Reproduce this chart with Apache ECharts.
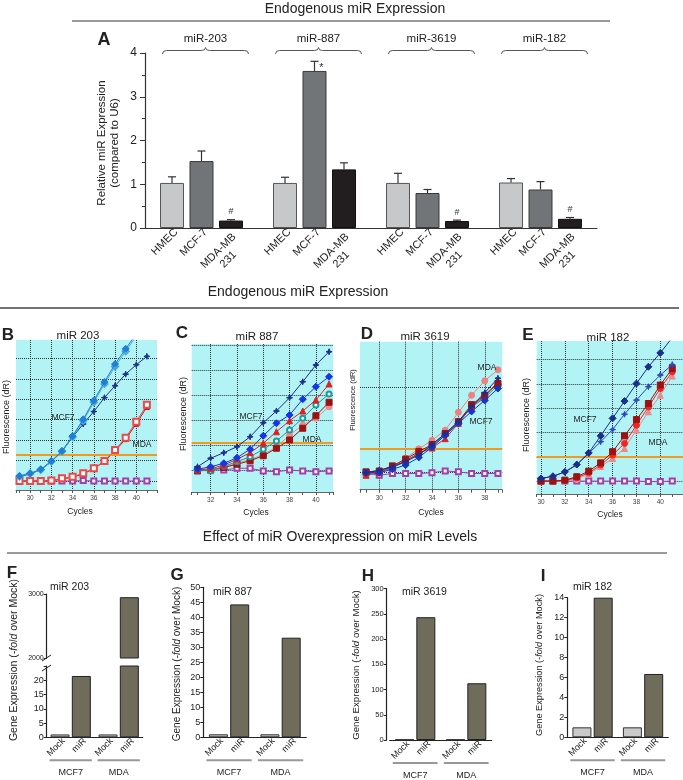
<!DOCTYPE html>
<html>
<head>
<meta charset="utf-8">
<script src="https://cdn.jsdelivr.net/npm/echarts@6/dist/echarts.min.js"></script>
<style>
html,body{margin:0;padding:0;background:#ffffff;}
#chart{width:683px;height:780px;}
</style>
</head>
<body>
<div id="chart"></div>
<script>
// ================= DATA =================
// Panel A : endogenous expression (relative to U6)
const groupsA = ['miR-203', 'miR-887', 'miR-3619', 'miR-182'];
const cellLinesA = ['HMEC', 'MCF-7', 'MDA-MB 231'];
const hmecA = [1.03, 1.03, 1.03, 1.04];
const mcf7A = [1.53, 3.59, 0.80, 0.88];
const mdaA  = [0.17, 1.34, 0.16, 0.21];
const hmecErrA = [0.14, 0.13, 0.22, 0.09];
const mcf7ErrA = [0.23, 0.22, 0.08, 0.18];
const mdaErrA  = [0.02, 0.15, 0.02, 0.03];
const markA = [['', '', '#'], ['', '*', ''], ['', '', '#'], ['', '', '#']];

// Panel B : miR 203 amplification (dR, grid units)
const cyclesB = [29, 30, 31, 32, 33, 34, 35, 36, 37, 38, 39, 40, 41];
const blueB  = [0.25, 0.38, 0.57, 0.98, 1.47, 2.20, 3.02, 3.94, 4.85, 5.72, 6.47, 7.20, 7.90];
const cyanB  = [0.22, 0.36, 0.55, 0.95, 1.45, 2.15, 2.95, 3.85, 4.75, 5.60, 6.35, 7.10, 7.80];
const navyB  = [0.20, 0.35, 0.55, 0.95, 1.45, 2.15, 2.79, 3.40, 4.08, 4.66, 5.23, 5.69, 6.10];
const redB   = [0.00, 0.00, 0.00, 0.02, 0.13, 0.21, 0.38, 0.62, 0.98, 1.52, 2.12, 2.90, 3.73];
const darkRedB = [0.00, 0.00, 0.00, 0.02, 0.10, 0.18, 0.35, 0.60, 0.95, 1.48, 2.05, 2.80, 3.62];
const ntcB   = [0.00, 0.00, 0.00, 0.00, 0.00, 0.00, 0.02, 0.00, 0.00, 0.00, 0.00, 0.00, 0.00];
const thresholdB = 1.27;

// Panel C : miR 887
const cyclesC = [31, 32, 33, 34, 35, 36, 37, 38, 39, 40, 41];
const navyC    = [0.13, 0.47, 0.69, 0.93, 1.33, 1.89, 2.36, 2.89, 3.53, 4.20, 4.73];
const blueC    = [0.03, 0.13, 0.27, 0.49, 0.83, 1.37, 1.87, 2.20, 2.83, 3.33, 3.73];
const redC     = [0.00, 0.05, 0.20, 0.43, 0.69, 1.07, 1.53, 1.97, 2.36, 2.80, 3.44];
const tealC    = [0.00, -0.04, 0.15, 0.33, 0.53, 0.83, 1.16, 1.60, 2.07, 2.60, 3.04];
const darkRedC = [-0.04, 0.00, 0.10, 0.23, 0.37, 0.57, 0.87, 1.20, 1.67, 2.17, 2.71];
const salmonC  = [-0.02, 0.02, 0.12, 0.27, 0.42, 0.62, 0.92, 1.40, 1.80, 2.07, 2.53];
const ntcC     = [0.00, 0.00, 0.00, 0.07, 0.07, -0.04, -0.07, 0.00, -0.04, -0.07, -0.04];
const thresholdC = 1.09;

// Panel D : miR 3619
const cyclesD = [29, 30, 31, 32, 33, 34, 35, 36, 37, 38, 39];
const salmonD  = [0.00, 0.01, 0.07, 0.17, 0.28, 0.38, 0.50, 0.71, 0.91, 1.08, 1.21];
const navyD    = [0.00, 0.03, 0.07, 0.13, 0.21, 0.33, 0.46, 0.60, 0.78, 0.94, 1.11];
const blueD    = [0.00, 0.00, 0.04, 0.09, 0.18, 0.30, 0.44, 0.58, 0.72, 0.85, 0.99];
const redD     = [-0.03, 0.00, 0.07, 0.14, 0.23, 0.29, 0.40, 0.58, 0.78, 0.90, 1.07];
const darkRedD = [0.01, 0.02, 0.08, 0.16, 0.25, 0.33, 0.46, 0.60, 0.80, 0.91, 1.05];
const tealD    = [0.00, 0.01, 0.06, 0.13, 0.22, 0.31, 0.45, 0.59, 0.77, 0.88, 1.03];
const ntcD     = [0.00, -0.03, -0.01, -0.01, -0.01, 0.00, 0.02, 0.01, -0.01, -0.01, -0.01];
const thresholdD = 0.28;

// Panel E : miR 182
const cyclesE = [30, 31, 32, 33, 34, 35, 36, 37, 38, 39, 40, 41];
const navyE    = [0.11, 0.20, 0.38, 0.68, 1.16, 1.86, 2.58, 3.29, 4.01, 4.70, 5.27, 5.90];
const blueE    = [0.10, 0.20, 0.37, 0.67, 1.14, 1.62, 2.12, 2.75, 3.33, 3.88, 4.36, 4.79];
const darkRedE = [0.00, 0.00, 0.04, 0.18, 0.41, 0.75, 1.21, 1.86, 2.53, 3.19, 3.95, 4.63];
const redE     = [0.00, 0.00, 0.03, 0.14, 0.34, 0.66, 1.07, 1.55, 2.30, 3.05, 3.81, 4.49];
const pinkE    = [0.00, 0.00, 0.02, 0.10, 0.28, 0.60, 0.93, 1.34, 2.10, 2.85, 3.53, 4.32];
const ntcE     = [0.00, 0.00, 0.00, 0.00, 0.00, 0.00, 0.00, 0.00, 0.00, -0.02, -0.02, 0.00];
const thresholdE = 1.0;

// Panels F-I : overexpression (-fold over Mock)
const groupsFI = ['MCF7', 'MDA'];
const treatFI = ['Mock', 'miR'];
const mockF = [1, 1];   const mirF = [21.5, 2950];
const mockG = [1, 1];   const mirG = [44.3, 33.2];
const mockH = [1, 1];   const mirH = [243.5, 112.5];
const mockI = [1, 1];   const mirI = [14.0, 6.35];

// ================= BUILD =================
const FONT = '"Liberation Sans", Arial, Helvetica, sans-serif';
const grid = [], xAxis = [], yAxis = [], series = [], graphic = [];

function text(x, y, str, size, opt) {
  opt = opt || {};
  const style = { text: str, fontSize: size, fontFamily: FONT, fontWeight: opt.bold ? 'bold' : 'normal',
    fill: opt.color || '#222', align: opt.align || 'center', verticalAlign: 'middle' };
  if (opt.lineHeight) style.lineHeight = opt.lineHeight;
  if (opt.rich) style.rich = opt.rich;
  return { type: 'text', x: x, y: y, rotation: opt.rotation || 0, silent: true, z: 100, style: style };
}
function seg(x1, y1, x2, y2, color, w) {
  return { type: 'line', silent: true, z: 100, shape: { x1: x1, y1: y1, x2: x2, y2: y2 }, style: { stroke: color, lineWidth: w } };
}
const plain = function (v) { return String(v); };

// ---- headers ----
graphic.push(text(355, 9, 'Endogenous miR Expression', 14));
graphic.push(seg(72, 21, 610, 21, '#9a9a9a', 2));
graphic.push(text(298, 292, 'Endogenous miR Expression', 14));
graphic.push(seg(0, 308, 679, 308, '#444', 1.5));
graphic.push(text(340, 537, 'Effect of miR Overexpression on miR Levels', 14));
graphic.push(seg(7, 553, 667, 553, '#9a9a9a', 2));

// ---- Panel A ----
const barWA = 24, gapA = 5.5, pitchA = barWA + gapA;
grid.push({ left: 145, top: 53, width: 452, height: 175 });
xAxis.push({ gridIndex: 0, type: 'category', data: groupsA,
  axisLine: { lineStyle: { color: '#333', width: 1.2 } }, axisTick: { show: false }, axisLabel: { show: false } });
yAxis.push({ gridIndex: 0, type: 'value', min: 0, max: 4, interval: 1,
  axisLine: { show: true, lineStyle: { color: '#333', width: 1.2 } },
  axisTick: { show: true, length: 5, lineStyle: { color: '#333' } },
  minorTick: { show: true, splitNumber: 2, length: 3, lineStyle: { color: '#333' } },
  splitLine: { show: false },
  axisLabel: { fontSize: 12, color: '#222', margin: 8, fontFamily: FONT } });
const colorsA = ['#c7c8ca', '#727578', '#221e1f'];
const bordersA = ['#555', '#3a3a3a', '#111'];
const valsA = [hmecA, mcf7A, mdaA];
const errsA = [hmecErrA, mcf7ErrA, mdaErrA];
const NB = '\u00a0';
valsA.forEach(function (vals, i) {
  const twoLine = cellLinesA[i].indexOf(' ') >= 0;
  const lbl = twoLine ? cellLinesA[i].replace(' ', '\n') + NB + NB + NB + NB : cellLinesA[i];
  series.push({ type: 'bar', name: cellLinesA[i], xAxisIndex: 0, yAxisIndex: 0, data: vals,
    barWidth: barWA, barGap: (gapA / barWA * 100) + '%', silent: true,
    itemStyle: { color: colorsA[i], borderColor: bordersA[i], borderWidth: 1 },
    label: { show: true, position: 'bottom', distance: 4, rotate: 45, align: 'right',
      verticalAlign: twoLine ? 'top' : 'middle', offset: twoLine ? [0, -2] : [4, 2],
      formatter: lbl, fontSize: 11, lineHeight: 13, color: '#222', fontFamily: FONT } });
});
const errData = [];
groupsA.forEach(function (g, gi) { valsA.forEach(function (vals, si) { errData.push([gi, si, vals[gi], errsA[si][gi]]); }); });
series.push({ type: 'custom', xAxisIndex: 0, yAxisIndex: 0, data: errData, encode: { x: 0, y: 2 }, z: 5, clip: false, silent: true,
  renderItem: function (params, api) {
    const gi = api.value(0), si = api.value(1), v = api.value(2), e = api.value(3);
    const cx = api.coord([gi, 0])[0] + (si - 1) * pitchA;
    const yv = api.coord([gi, v])[1], ye = api.coord([gi, v + e])[1];
    const ch = [
      { type: 'line', shape: { x1: cx, y1: yv, x2: cx, y2: ye }, style: { stroke: '#333', lineWidth: 1.2 } },
      { type: 'line', shape: { x1: cx - 4, y1: ye, x2: cx + 4, y2: ye }, style: { stroke: '#333', lineWidth: 1.2 } }
    ];
    const m = markA[gi][si];
    if (m === '#') ch.push({ type: 'text', x: cx, y: ye - 8, style: { text: '#', fontSize: 9, fill: '#333', align: 'center', verticalAlign: 'middle', fontFamily: FONT } });
    if (m === '*') ch.push({ type: 'text', x: cx + 7, y: ye + 7, style: { text: '*', fontSize: 11, fill: '#333', align: 'center', verticalAlign: 'middle', fontFamily: FONT } });
    return { type: 'group', children: ch };
  } });
series.push({ type: 'custom', xAxisIndex: 0, yAxisIndex: 0, data: groupsA.map(function (g, i) { return [i, 4]; }),
  encode: { x: 0, y: 1 }, z: 5, clip: false, silent: true,
  renderItem: function (params, api) {
    const i = api.value(0);
    const p = api.coord([i, api.value(1)]);
    const cx = p[0] + 4, y = p[1] - 2.5, hw = 43;
    const d = 'M' + (cx - hw) + ',' + (y + 3.5) + ' Q' + (cx - hw) + ',' + y + ' ' + (cx - hw + 4) + ',' + y +
      ' L' + (cx - 4) + ',' + y + ' Q' + cx + ',' + y + ' ' + cx + ',' + (y - 3) +
      ' Q' + cx + ',' + y + ' ' + (cx + 4) + ',' + y + ' L' + (cx + hw - 4) + ',' + y +
      ' Q' + (cx + hw) + ',' + y + ' ' + (cx + hw) + ',' + (y + 3.5);
    return { type: 'group', children: [
      { type: 'path', shape: { pathData: d }, style: { stroke: '#555', fill: 'none', lineWidth: 1 } },
      { type: 'text', x: cx, y: p[1] - 14, style: { text: groupsA[i], fontSize: 11.5, fill: '#222', align: 'center', verticalAlign: 'middle', fontFamily: FONT } }
    ] };
  } });
graphic.push(text(104, 40, 'A', 18, { bold: true }));
graphic.push(text(108, 143, 'Relative miR Expression\n(compared to U6)', 11.5, { rotation: Math.PI / 2, lineHeight: 13 }));

// ---- Panels B-E ----
const CYAN = '#b2f3f5';
const STAR = 'path://M0,-10L2.5,-2.5L10,0L2.5,2.5L0,10L-2.5,2.5L-10,0L-2.5,-2.5Z';
function qpcr(p) {
  const gi = grid.length;
  grid.push({ left: p.left, top: p.top, width: p.width, height: p.height, show: true, backgroundColor: CYAN, borderWidth: 0 });
  const xi = xAxis.length;
  xAxis.push({ gridIndex: gi, type: 'value', position: 'bottom', min: p.xmin, max: p.xmax, minInterval: 2, maxInterval: 2, splitNumber: 6,
    axisLine: { show: true, onZero: false, lineStyle: { color: '#666', width: 1 } }, axisTick: { show: false },
    axisLabel: { fontSize: 6.5, color: '#444', margin: 5, showMinLabel: false, showMaxLabel: false, fontFamily: FONT },
    splitLine: { show: true, showMinLine: false, showMaxLine: false, lineStyle: { type: 'dotted', color: '#333', width: 1 } } });
  xAxis.push({ gridIndex: gi, type: 'value', position: 'bottom', min: p.xmin, max: p.xmax, minInterval: 1, maxInterval: 1, splitNumber: 14,
    axisLine: { show: false, onZero: false }, axisTick: { show: true, length: 3, lineStyle: { color: '#555' } },
    axisLabel: { show: false }, splitLine: { show: false } });
  const yi = yAxis.length;
  yAxis.push({ gridIndex: gi, type: 'value', min: p.ymin, max: p.ymax, minInterval: 1, maxInterval: 1, splitNumber: 8,
    axisLine: { show: false }, axisTick: { show: false }, axisLabel: { show: false },
    splitLine: { show: true, showMinLine: false, showMaxLine: false, lineStyle: { type: 'dotted', color: '#333', width: 1 } } });
  p.lines.forEach(function (ln, k) {
    const s = { type: 'line', xAxisIndex: xi, yAxisIndex: yi, data: p.cycles.map(function (c, j) { return [c, ln.data[j]]; }),
      symbol: ln.symbol, symbolSize: ln.size, showAllSymbol: true, silent: true,
      lineStyle: { color: ln.color, width: 1 }, itemStyle: { color: ln.color, borderColor: ln.color }, z: 3 + k };
    if (k === 0) s.markLine = { silent: true, symbol: ['none', 'none'], label: { show: false },
      lineStyle: { color: '#f39a1e', width: 2, type: 'solid' }, data: [{ yAxis: p.threshold }] };
    series.push(s);
  });
  graphic.push(text(p.letter[1], p.letter[2], p.letter[0], 17, { bold: true }));
  graphic.push(text(p.title[1], p.title[2], p.title[0], 11.5));
  p.notes.forEach(function (n) { graphic.push(text(n[1], n[2], n[0], 8.5)); });
  graphic.push(text(p.yname[0], p.yname[1], 'Fluorescence (dR)', p.yname[2], { rotation: Math.PI / 2 }));
  graphic.push(text(p.cyc[0], p.cyc[1], 'Cycles', 8.5));
}

qpcr({ left: 16, top: 340, width: 141, height: 150, xmin: 28.67, xmax: 41.95, ymin: -0.44, ymax: 6.9,
  threshold: thresholdB, cycles: cyclesB,
  lines: [
    { data: ntcB, color: '#a43ea8', symbol: 'emptyRect', size: 5 },
    { data: darkRedB, color: '#c01818', symbol: 'rect', size: 5 },
    { data: redB, color: '#ee4848', symbol: 'emptyRect', size: 6 },
    { data: navyB, color: '#1d3585', symbol: STAR, size: 6 },
    { data: cyanB, color: '#45a8dc', symbol: 'emptyDiamond', size: 6 },
    { data: blueB, color: '#1f7fd6', symbol: 'diamond', size: 7 }
  ],
  letter: ['B', 8, 335], title: ['miR 203', 78, 336], notes: [['MCF7', 63, 418], ['MDA', 142, 445]],
  yname: [7, 417, 9], cyc: [80, 512] });

qpcr({ left: 191.7, top: 344, width: 141.3, height: 148, xmin: 30.56, xmax: 41.3, ymin: -0.88, ymax: 5.04,
  threshold: thresholdC, cycles: cyclesC,
  lines: [
    { data: ntcC, color: '#a43ea8', symbol: 'emptyRect', size: 5 },
    { data: salmonC, color: '#f08a8a', symbol: 'circle', size: 6 },
    { data: darkRedC, color: '#9c1212', symbol: 'rect', size: 6 },
    { data: tealC, color: '#1a9c9c', symbol: 'emptyCircle', size: 5 },
    { data: redC, color: '#e02020', symbol: 'triangle', size: 6 },
    { data: blueC, color: '#1535e6', symbol: 'diamond', size: 7 },
    { data: navyC, color: '#1d2d8c', symbol: STAR, size: 6 }
  ],
  letter: ['C', 182, 333], title: ['miR 887', 257, 337], notes: [['MCF7', 251, 417], ['MDA', 312, 440]],
  yname: [184, 414, 9], cyc: [256, 513] });

qpcr({ left: 360, top: 341.7, width: 142.3, height: 148, xmin: 28.54, xmax: 39.33, ymin: -0.2, ymax: 1.54,
  threshold: thresholdD, cycles: cyclesD,
  lines: [
    { data: ntcD, color: '#a43ea8', symbol: 'emptyRect', size: 5 },
    { data: salmonD, color: '#f08080', symbol: 'circle', size: 6 },
    { data: tealD, color: '#1a9c9c', symbol: 'emptyCircle', size: 5 },
    { data: redD, color: '#e02020', symbol: 'triangle', size: 6 },
    { data: darkRedD, color: '#9c1212', symbol: 'rect', size: 6 },
    { data: blueD, color: '#1535c8', symbol: 'diamond', size: 7 },
    { data: navyD, color: '#1d2d8c', symbol: STAR, size: 6 }
  ],
  letter: ['D', 367, 334], title: ['miR 3619', 425, 337], notes: [['MDA', 487, 368], ['MCF7', 481, 422]],
  yname: [353, 400, 7.5], cyc: [431, 513] });

qpcr({ left: 536.7, top: 341, width: 146.3, height: 153, xmin: 29.64, xmax: 41.9, ymin: -0.53, ymax: 5.76,
  threshold: thresholdE, cycles: cyclesE,
  lines: [
    { data: ntcE, color: '#a43ea8', symbol: 'emptyRect', size: 5 },
    { data: pinkE, color: '#f08888', symbol: 'triangle', size: 6 },
    { data: redE, color: '#f02626', symbol: 'circle', size: 6 },
    { data: darkRedE, color: '#9c1212', symbol: 'rect', size: 6 },
    { data: blueE, color: '#2a48c0', symbol: STAR, size: 6 },
    { data: navyE, color: '#1a2f8a', symbol: 'diamond', size: 7 }
  ],
  letter: ['E', 528, 335], title: ['miR 182', 608, 338], notes: [['MCF7', 585, 420], ['MDA', 658, 443]],
  yname: [527, 415, 9], cyc: [610, 515] });

// ---- Panels F-I ----
const MOCK_C = '#c9c9c9', MIR_C = '#6f6c5c';
function barGrid(p) {
  const gi = grid.length;
  grid.push({ left: p.left, top: p.top, width: p.width, height: p.height });
  const xi = xAxis.length;
  xAxis.push({ gridIndex: gi, type: 'category', data: groupsFI, show: p.showX,
    axisLine: { show: true, onZero: false, lineStyle: { color: '#222', width: 1.2 } }, axisTick: { show: false },
    axisLabel: { show: true, margin: 31, fontSize: 9, color: '#222', fontFamily: FONT } });
  const yi = yAxis.length;
  const ya = { gridIndex: gi, type: 'value', min: p.ymin, max: p.ymax, interval: p.interval, offset: p.yOffset || 0,
    axisLine: { show: true, lineStyle: { color: '#222', width: 1.2 } },
    axisTick: { show: true, length: 3, lineStyle: { color: '#222' } },
    splitLine: { show: false }, axisLabel: { fontSize: p.fs, color: '#222', margin: 3, fontFamily: FONT, formatter: p.fmt || plain } };
  yAxis.push(ya);
  [[treatFI[0], p.mock, MOCK_C, '#333'], [treatFI[1], p.mir, MIR_C, '#222']].forEach(function (b) {
    series.push({ type: 'bar', name: b[0], xAxisIndex: xi, yAxisIndex: yi, data: b[1], barWidth: 19, barGap: '12%', silent: true,
      itemStyle: { color: b[2], borderColor: b[3], borderWidth: 1 },
      label: { show: p.showX, position: 'bottom', distance: 3, rotate: 45, align: 'right', verticalAlign: 'middle',
        offset: [3, 2], formatter: b[0], fontSize: 9, color: '#222', fontFamily: FONT } });
  });
  if (p.showX) {
    series.push({ type: 'custom', xAxisIndex: xi, yAxisIndex: yi, clip: false, silent: true, z: 5,
      data: groupsFI.map(function (g, i) { return [i, p.ymin]; }), encode: { x: 0, y: 1 },
      renderItem: function (params, api) {
        const c = api.coord([api.value(0), api.value(1)]);
        const w = api.size([1, 0])[0];
        return { type: 'line', shape: { x1: c[0] - w * 0.44, y1: c[1] + 23, x2: c[0] + w * 0.44, y2: c[1] + 23 },
          style: { stroke: '#999', lineWidth: 2 } };
      } });
  }
}
const yNameRich = function (size) { return { i: { fontStyle: 'italic', fontSize: size, fontFamily: FONT, fill: '#222' } }; };
const yNameText = 'Gene Expression ({i|-fold} over Mock)';

// F (broken axis: upper + lower)
barGrid({ left: 46.7, top: 594, width: 96, height: 64, ymin: 2000, ymax: 3000, interval: 1000, fs: 7, showX: false, mock: mockF, mir: mirF });
barGrid({ left: 46.7, top: 666, width: 96, height: 71.3, ymin: 0, ymax: 25, interval: 5, fs: 9, showX: true,
  fmt: function (v) { return v > 20 ? '' : String(v); }, mock: mockF, mir: mirF });
graphic.push(seg(42, 661, 51, 655, '#222', 1));
graphic.push(seg(42, 671, 51, 665, '#222', 1));
graphic.push(text(12, 573, 'F', 17, { bold: true }));
graphic.push(text(50, 587, 'miR 203', 10.5, { align: 'left' }));
graphic.push(text(14, 660, yNameText, 10.5, { rotation: Math.PI / 2, rich: yNameRich(10.5) }));
// G
barGrid({ left: 203.3, top: 587.3, width: 103, height: 150, ymin: 0, ymax: 50, interval: 5, fs: 9, showX: true, mock: mockG, mir: mirG });
graphic.push(text(177, 575, 'G', 17, { bold: true }));
graphic.push(text(213, 592, 'miR 887', 10.5, { align: 'left' }));
graphic.push(text(177, 664, yNameText, 10, { rotation: Math.PI / 2, rich: yNameRich(10) }));
// H
barGrid({ left: 389.7, yOffset: 3, top: 588.7, width: 102, height: 151.3, ymin: 0, ymax: 300, interval: 50, fs: 7.5, showX: true, mock: mockH, mir: mirH });
graphic.push(text(368, 576, 'H', 17, { bold: true }));
graphic.push(text(402, 592, 'miR 3619', 10.5, { align: 'left' }));
graphic.push(text(356, 665, yNameText, 9.7, { rotation: Math.PI / 2, rich: yNameRich(9.7) }));
// I
barGrid({ left: 567.3, top: 597.7, width: 101, height: 139.6, ymin: 0, ymax: 14, interval: 2, fs: 9, showX: true, mock: mockI, mir: mirI });
graphic.push(text(543, 576, 'I', 17, { bold: true }));
graphic.push(text(573, 587, 'miR 182', 10.5, { align: 'left' }));
graphic.push(text(539, 665, yNameText, 9.2, { rotation: Math.PI / 2, rich: yNameRich(9.2) }));

const chart = echarts.init(document.getElementById('chart'), null, { renderer: 'canvas' });
chart.setOption({
  backgroundColor: '#ffffff',
  animation: false,
  textStyle: { fontFamily: FONT },
  grid: grid, xAxis: xAxis, yAxis: yAxis, series: series,
  graphic: { elements: graphic }
});
</script>
</body>
</html>
